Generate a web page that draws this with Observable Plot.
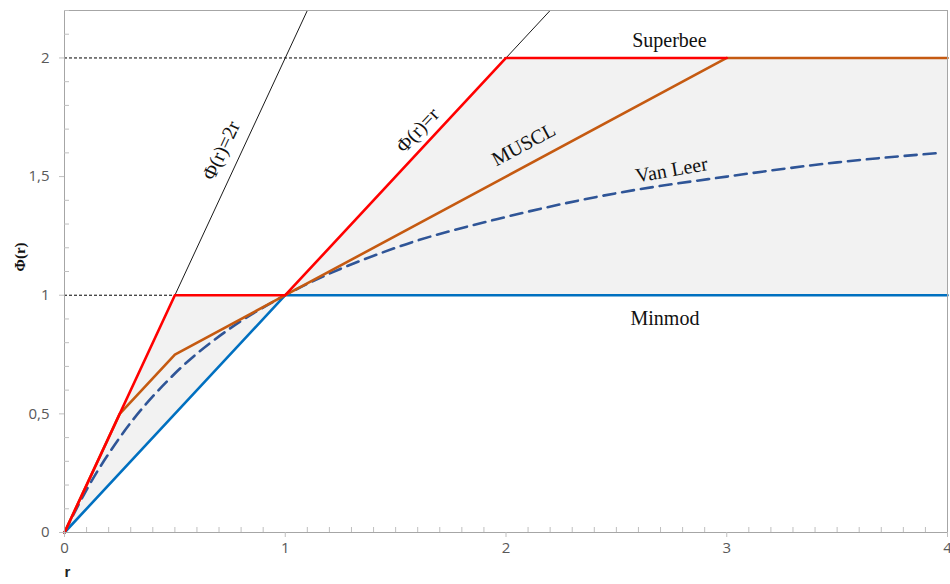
<!DOCTYPE html>
<html>
<head>
<meta charset="utf-8">
<script src="https://cdn.jsdelivr.net/npm/d3@7"></script>
<script src="https://cdn.jsdelivr.net/npm/@observablehq/plot@0.6"></script>
<style>
  html, body { margin: 0; padding: 0; background: #fff; }
  #chart svg { display: block; }
</style>
</head>
<body>
<div id="chart"></div>
<script>
// Axis ticks
const xTicks = [0, 1, 2, 3, 4];
const yTicks = [0, 0.5, 1, 1.5, 2];
const xMinor = [0.1,0.2,0.3,0.4,0.5,0.6,0.7,0.8,0.9,1.1,1.2,1.3,1.4,1.5,1.6,1.7,1.8,1.9,2.1,2.2,2.3,2.4,2.5,2.6,2.7,2.8,2.9,3.1,3.2,3.3,3.4,3.5,3.6,3.7,3.8,3.9];
const yMinor = [0.1,0.2,0.3,0.4,0.6,0.7,0.8,0.9,1.1,1.2,1.3,1.4,1.6,1.7,1.8,1.9,2.1,2.2];

// Superbee (red)
const superbeeR   = [0, 0.5, 1, 2, 3];
const superbeePhi = [0, 1, 1, 2, 2];
// MUSCL (orange)
const musclR   = [0, 0.25, 0.5, 1, 2, 3, 4];
const musclPhi = [0, 0.5, 0.75, 1, 1.5, 2, 2];
// Minmod (blue)
const minmodR   = [0, 1, 4];
const minmodPhi = [0, 1, 1];
// Van Leer (dashed)
const vanLeerR   = [0, 0.1, 0.25, 0.5, 0.75, 1, 1.5, 2, 2.5, 3, 3.5, 3.97];
const vanLeerPhi = [0, 0.18, 0.4, 0.67, 0.86, 1, 1.2, 1.33, 1.43, 1.5, 1.56, 1.6];
// TVD region (shaded) between Minmod and Superbee
const regionR     = [0, 0.5, 1, 2, 4];
const regionLower = [0, 0.5, 1, 1, 1];
const regionUpper = [0, 1, 1, 2, 2];
// Reference lines Φ(r)=2r and Φ(r)=r
const line2rR   = [0, 1.1];
const line2rPhi = [0, 2.2];
const line1rR   = [0, 2.2];
const line1rPhi = [0, 2.2];
// Dotted guides at Φ=1 and Φ=2
const guideLevels = [1, 2];
const guideEnds   = [0.5, 2];

// Annotations
const labelTexts = ["Superbee", "Minmod", "MUSCL", "Van Leer", "Φ(r)=2r", "Φ(r)=r"];
const labelR     = [2.74, 2.72, 2.08, 2.75, 0.71, 1.6];
const labelPhi   = [2.075, 0.9, 1.635, 1.528, 1.61, 1.695];
const labelRot   = [0, 0, -28, -10, -65, -47];

const toPts = (xs, ys) => xs.map((x, i) => ({x, y: ys[i]}));
const region = regionR.map((x, i) => ({x, y1: regionLower[i], y2: regionUpper[i]}));
const guides = guideLevels.map((y, i) => ({x1: 0, x2: guideEnds[i], y}));
const labels = labelTexts.map((t, i) => ({t, x: labelR[i], y: labelPhi[i], r: labelRot[i]}));

const fmt = d => String(d).replace(".", ",");
const serif = "Liberation Serif, Times New Roman, serif";

const chart = Plot.plot({
  width: 950,
  height: 584,
  marginLeft: 64,
  marginRight: 3,
  marginTop: 10,
  marginBottom: 52,
  style: {fontFamily: "Open Sans, sans-serif", background: "#fff", overflow: "hidden"},
  x: {domain: [0, 4]},
  y: {domain: [0, 2.2]},
  marks: [
    Plot.areaY(region, {x: "x", y1: "y1", y2: "y2", fill: "#f2f2f2"}),
    Plot.ruleY(guides, {x1: "x1", x2: "x2", y: "y", stroke: "#000", strokeWidth: 1, strokeDasharray: "3,2"}),
    Plot.line(toPts(line2rR, line2rPhi), {x: "x", y: "y", stroke: "#1a1a1a", strokeWidth: 1}),
    Plot.line(toPts(line1rR, line1rPhi), {x: "x", y: "y", stroke: "#1a1a1a", strokeWidth: 1}),
    Plot.line(toPts(minmodR, minmodPhi), {x: "x", y: "y", stroke: "#0070c0", strokeWidth: 2.6}),
    Plot.line(toPts(vanLeerR, vanLeerPhi), {x: "x", y: "y", stroke: "#2f5597", strokeWidth: 2.6, strokeDasharray: "12,7", curve: "monotone-x"}),
    Plot.line(toPts(musclR, musclPhi), {x: "x", y: "y", stroke: "#c55a11", strokeWidth: 2.6}),
    Plot.line(toPts(superbeeR, superbeePhi), {x: "x", y: "y", stroke: "#ff0000", strokeWidth: 2.6}),
    Plot.frame({stroke: "#a6a6a6"}),
    Plot.axisX({ticks: xTicks, tickSize: 5, tickPadding: 5, tickFormat: fmt, stroke: "#bfbfbf", fill: "#595959", fontSize: 15, label: null}),
    Plot.axisX({ticks: xMinor, tickSize: -5, tickFormat: () => "", stroke: "#bfbfbf", label: null}),
    Plot.axisY({ticks: yTicks, tickSize: 5, tickPadding: 10, tickFormat: fmt, stroke: "#bfbfbf", fill: "#595959", fontSize: 15, label: null}),
    Plot.axisY({ticks: yMinor, tickSize: -5, tickFormat: () => "", stroke: "#bfbfbf", label: null}),
    Plot.text(labels, {x: "x", y: "y", text: "t", rotate: "r", fontFamily: serif, fontSize: 20, fill: "#111"}),
    Plot.text(["Φ(r)"], {frameAnchor: "left", dx: -44, rotate: -90, fontWeight: "bold", fontSize: 15, fontFamily: serif, fill: "#111"}),
    Plot.text(["r"], {frameAnchor: "bottom-left", dy: 44, fontWeight: "bold", fontSize: 15, fontFamily: "Liberation Sans, sans-serif", fill: "#222"})
  ]
});
document.getElementById("chart").appendChild(chart);
</script>
</body>
</html>
